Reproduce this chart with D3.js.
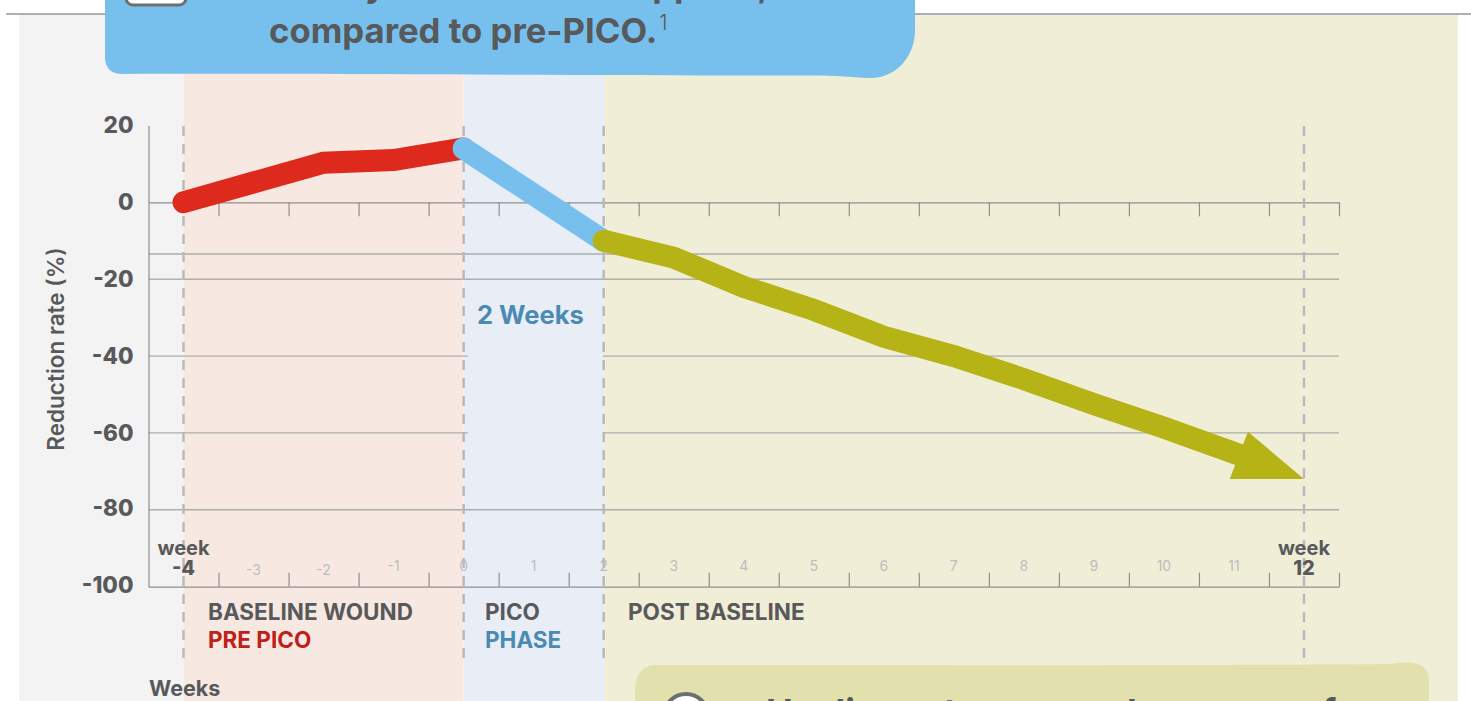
<!DOCTYPE html>
<html>
<head>
<meta charset="utf-8">
<script src="https://cdn.jsdelivr.net/npm/d3@7"></script>
<style>
  html, body { margin: 0; padding: 0; background: #fff; overflow: hidden; }
  text { font-family: "Inter", "Noto Sans", sans-serif; }
</style>
</head>
<body>
<div id="graph"></div>
<script>
const width = 1471,
  height = 701;

// values
const yTicks = [20, 0, -20, -40, -60, -80, -100];
const gridFull = [-13.45, -20, -80];
const gridBroken = [-40, -60];
const weekTicks = [-3.5, -2.5, -1.5, -0.5, 0.5, 1.5, 2.5, 3.5, 4.5, 5.5, 6.5, 7.5, 8.5, 9.5, 10.5, 11.5, 12.5];
const minorWeeks = [-3, -2, -1, 0, 1, 2, 3, 4, 5, 6, 7, 8, 9, 10, 11];
const dashedWeeks = [-4, 0, 2, 12];

const preWeeks = [-4, -2, -1, 0];
const preRate = [0, 10.3, 11, 14];
const picoWeeks = [0, 2];
const picoRate = [14, -10];
const postWeeks = [2, 3, 4, 5, 6, 7, 8, 9, 10, 11.2];
const postRate = [-10, -14.4, -22, -28, -35, -40, -46, -52.5, -58.6, -66.5];
const headWeeks = [12, 10.94, 11.2];
const headRate = [-72, -72, -59.7];

const colors = {
  text: "#58595b",
  red: "#dd2a1c",
  blue: "#77c0ee",
  olive: "#b6b316",
  darkRed: "#c0201a",
  steel: "#4a8ab3"
};

const x = d3.scaleLinear().domain([-4.5, 12.5]).range([148.5, 1339]);
const y = d3.scaleLinear().domain([20, -100]).range([125.4, 586.7]);

const svg = d3.select("#graph").append("svg")
  .attr("width", width)
  .attr("height", height)
  .style("display", "block");

// background bands
const bands = [
  { x0: 19, x1: x(-4), fill: "#f3f3f3" },
  { x0: x(-4), x1: x(0), fill: "#f7e9e2" },
  { x0: x(0), x1: 605, fill: "#e9eef6" },
  { x0: 605, x1: 1458, fill: "#f0eed6" }
];
svg.selectAll("rect.band")
  .data(bands)
  .join("rect")
  .attr("class", "band")
  .attr("x", d => d.x0)
  .attr("y", 15)
  .attr("width", d => d.x1 - d.x0)
  .attr("height", height - 15)
  .attr("fill", d => d.fill);

svg.append("line")
  .attr("x1", 6).attr("x2", width)
  .attr("y1", 14).attr("y2", 14)
  .attr("stroke", "#939598").attr("stroke-width", 1.5);

// grid
const grid = svg.append("g").attr("fill", "none");
gridFull.forEach(v => {
  grid.append("line")
    .attr("x1", x.range()[0]).attr("x2", x.range()[1])
    .attr("y1", y(v)).attr("y2", y(v))
    .attr("stroke", v === -20 ? "#8f8f90" : "#adadad")
    .attr("stroke-width", v === -20 ? 1 : 1.4);
});
gridBroken.forEach(v => {
  [[x.range()[0], 468], [603, x.range()[1]]].forEach(seg => {
    grid.append("line")
      .attr("x1", seg[0]).attr("x2", seg[1])
      .attr("y1", y(v)).attr("y2", y(v))
      .attr("stroke", "#adadad")
      .attr("stroke-width", 1.2);
  });
});

// axes
const axisLeft = svg.append("g")
  .attr("transform", `translate(${x.range()[0]},0)`)
  .call(d3.axisLeft(y).tickValues(yTicks).tickSize(0).tickPadding(15).tickFormat(d => String(d)));
axisLeft.select(".domain").attr("stroke", "#8f8f90").attr("stroke-width", 1.2);
axisLeft.selectAll("text")
  .attr("fill", colors.text)
  .attr("font-size", 22.5)
  .attr("font-weight", 800)
  .attr("font-family", "Inter")
  .attr("dy", d => d <= -80 ? "0.24em" : "0.32em");

// zero line, ticks hang down
const zeroAxis = svg.append("g")
  .attr("transform", `translate(0,${y(0)})`)
  .call(d3.axisBottom(x).tickValues(weekTicks).tickSize(14).tickSizeOuter(0).tickFormat(""));
zeroAxis.selectAll("path,line").attr("stroke", "#8f8f90").attr("stroke-width", 1.2);

// bottom line, ticks point up
const bottomAxis = svg.append("g")
  .attr("transform", `translate(0,${y(-100)})`)
  .call(d3.axisTop(x).tickValues(weekTicks).tickSize(14).tickSizeOuter(0).tickFormat(""));
bottomAxis.selectAll("path,line").attr("stroke", "#8f8f90").attr("stroke-width", 1.2);

// minor week labels
svg.append("g").selectAll("text")
  .data(minorWeeks)
  .join("text")
  .attr("x", d => x(d))
  .attr("y", d => d === -3 || d === -2 ? 575 : 571)
  .attr("text-anchor", "middle")
  .attr("font-size", 14)
  .attr("fill", "#bcbdbf")
  .text(d => d);

// dashed week markers
svg.append("g").selectAll("line")
  .data(dashedWeeks)
  .join("line")
  .attr("x1", d => x(d)).attr("x2", d => x(d))
  .attr("y1", 126).attr("y2", 659)
  .attr("stroke", "#b8b8bc")
  .attr("stroke-width", 2.4)
  .attr("stroke-dasharray", "10 8");

// the three line segments
const line = d3.line().x(d => x(d[0])).y(d => y(d[1]));
const segments = [
  { weeks: preWeeks, rate: preRate, color: colors.red },
  { weeks: picoWeeks, rate: picoRate, color: colors.blue },
  { weeks: postWeeks, rate: postRate, color: colors.olive }
];
svg.append("g").selectAll("path")
  .data(segments)
  .join("path")
  .attr("d", d => line(d3.zip(d.weeks, d.rate)))
  .attr("fill", "none")
  .attr("stroke", d => d.color)
  .attr("stroke-width", 22)
  .attr("stroke-linecap", "round")
  .attr("stroke-linejoin", "miter");

svg.append("path")
  .attr("d", line(d3.zip(headWeeks, headRate)) + "Z")
  .attr("fill", colors.olive);

// week -4 and week 12 labels
[[-4, "-4"], [12, "12"]].forEach(w => {
  svg.append("text")
    .attr("x", x(w[0])).attr("y", 555)
    .attr("text-anchor", "middle")
    .attr("font-size", 20).attr("font-weight", 700)
    .attr("fill", colors.text)
    .text("week");
  svg.append("text")
    .attr("x", x(w[0])).attr("y", 575)
    .attr("text-anchor", "middle")
    .attr("font-size", 20).attr("font-weight", 800)
    .attr("fill", colors.text)
    .text(w[1]);
});

// labels
const labels = [
  { t: "BASELINE WOUND", x: 208, y: 620, fill: colors.text },
  { t: "PRE PICO", x: 208, y: 648, fill: colors.darkRed },
  { t: "PICO", x: 485, y: 620, fill: colors.text },
  { t: "PHASE", x: 485, y: 648, fill: colors.steel },
  { t: "POST BASELINE", x: 628, y: 620, fill: colors.text }
];
svg.append("g").selectAll("text")
  .data(labels)
  .join("text")
  .attr("x", d => d.x).attr("y", d => d.y)
  .attr("font-size", 22.5).attr("font-weight", 700)
  .attr("fill", d => d.fill)
  .text(d => d.t);

svg.append("text")
  .attr("x", 149).attr("y", 696)
  .attr("font-size", 21.5).attr("font-weight", 700)
  .attr("fill", colors.text)
  .text("Weeks");

svg.append("text")
  .attr("x", 477).attr("y", 324)
  .attr("font-size", 25.5).attr("font-weight", 700)
  .attr("fill", colors.steel)
  .text("2 Weeks");

svg.append("text")
  .attr("transform", "translate(64,349) rotate(-90)")
  .attr("text-anchor", "middle")
  .attr("font-size", 22.5).attr("font-weight", 600)
  .attr("fill", colors.text)
  .text("Reduction rate (%)");

// callout at the top
svg.append("path")
  .attr("d", "M105,-5 L105,58 Q106,74 122,74 C300,73 600,76 820,75.5 C845,76 860,78 872,78 C898,77 915,55 915,30 L915,-5 Z")
  .attr("fill", colors.blue);

svg.append("rect")
  .attr("x", 126).attr("y", -40)
  .attr("width", 60).attr("height", 45)
  .attr("rx", 7)
  .attr("fill", "#fff")
  .attr("stroke", "#6d6e71").attr("stroke-width", 3);

svg.append("text").attr("x", 386).attr("y", -3)
  .attr("text-anchor", "end")
  .attr("font-size", 34.7).attr("font-weight", 700)
  .attr("fill", colors.text)
  .text("by");
svg.append("text").attr("x", 632).attr("y", -3)
  .attr("font-size", 34.7).attr("font-weight", 700)
  .attr("fill", colors.text)
  .text("applied,");

const compared = svg.append("text").attr("x", 269).attr("y", 43)
  .attr("font-size", 34.7).attr("font-weight", 700)
  .attr("fill", colors.text);
compared.append("tspan").text("compared to pre-PICO.");
compared.append("tspan")
  .attr("dx", 2).attr("dy", -13)
  .attr("font-size", 21).attr("font-weight", 300)
  .text("1");

// box at the bottom
svg.append("path")
  .attr("d", "M635,710 L635,690 Q636,666 655,665 C900,665 1200,666 1390,664 C1410,661 1428,661 1429,680 L1429,710 Z")
  .attr("fill", "#e2e0ac");

svg.append("circle")
  .attr("cx", 686).attr("cy", 716).attr("r", 22)
  .attr("fill", "#fff")
  .attr("stroke", "#6d6e71").attr("stroke-width", 4);

const boxText = svg.append("text").attr("y", 725)
  .attr("font-size", 36).attr("font-weight", 700)
  .attr("fill", colors.text);
boxText.append("tspan").attr("x", 766).text("Healing rate per week");
boxText.append("tspan").attr("x", 1300).text("of");
</script>
</body>
</html>
